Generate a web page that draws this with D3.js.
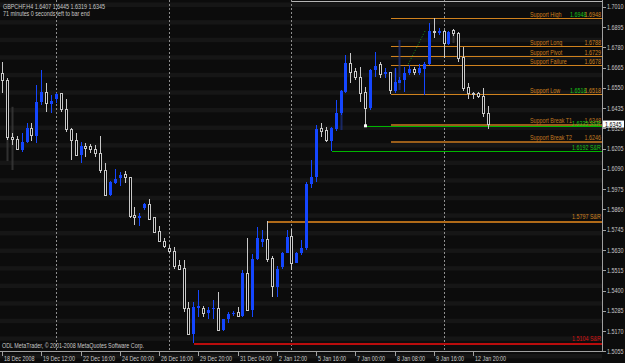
<!DOCTYPE html>
<html>
<head>
<meta charset="utf-8">
<script src="https://cdn.jsdelivr.net/npm/d3@7"></script>
<style>
  body { margin: 0; background: #000; }
  svg { display: block; }
  text { font-family: "Liberation Sans", Arial, sans-serif; font-size: 7px; }
</style>
</head>
<body>
<div id="chart"></div>
<script>
// GBPCHF H4 bars, oldest first
const opens = [
  1.6633, 1.6595, 1.6267, 1.6260, 1.6198, 1.6241, 1.6321, 1.6279, 1.6469, 1.6525,
  1.6457, 1.6486, 1.6520, 1.6425, 1.6315, 1.6254, 1.6169, 1.6220, 1.6216, 1.6202,
  1.6179, 1.6084, 1.5942, 1.6012, 1.6037, 1.6056, 1.6042, 1.5828, 1.5809, 1.5866,
  1.5889, 1.5813, 1.5733, 1.5677, 1.5639, 1.5624, 1.5544, 1.5525, 1.5298, 1.5152,
  1.5302, 1.5298, 1.5273, 1.5294, 1.5298, 1.5175, 1.5236, 1.5264, 1.5275, 1.5254,
  1.5497, 1.5292, 1.5577, 1.5677, 1.5690, 1.5582, 1.5421, 1.5531, 1.5614, 1.5705,
  1.5557, 1.5614, 1.5639, 1.6003, 1.6042, 1.6321, 1.6311, 1.6250, 1.6315, 1.6406,
  1.6529, 1.6686, 1.6642, 1.6611, 1.6523, 1.6434, 1.6652, 1.6681, 1.6631, 1.6637,
  1.6535, 1.6580, 1.6595, 1.6633, 1.6656, 1.6633, 1.6658, 1.6686, 1.6870, 1.6861,
  1.6870, 1.6798, 1.6875, 1.6861, 1.6724, 1.6554, 1.6516, 1.6520, 1.6500, 1.6407
];
const highs = [
  1.6699, 1.6607, 1.6294, 1.6277, 1.6294, 1.6351, 1.6349, 1.6567, 1.6652, 1.6577,
  1.6510, 1.6520, 1.6523, 1.6486, 1.6321, 1.6296, 1.6245, 1.6236, 1.6230, 1.6226,
  1.6277, 1.6125, 1.6023, 1.6090, 1.6074, 1.6078, 1.6046, 1.5875, 1.5838, 1.5895,
  1.5917, 1.5819, 1.5766, 1.5696, 1.5658, 1.5648, 1.5573, 1.5573, 1.5336, 1.5336,
  1.5402, 1.5311, 1.5307, 1.5345, 1.5392, 1.5241, 1.5279, 1.5283, 1.5307, 1.5516,
  1.5696, 1.5607, 1.5762, 1.5743, 1.5797, 1.5595, 1.5538, 1.5620, 1.5743, 1.5747,
  1.5620, 1.5686, 1.6017, 1.6141, 1.6340, 1.6349, 1.6326, 1.6326, 1.6482, 1.6538,
  1.6737, 1.6747, 1.6662, 1.6671, 1.6557, 1.6656, 1.6756, 1.6699, 1.6662, 1.6642,
  1.6662, 1.6614, 1.6671, 1.6681, 1.6671, 1.6685, 1.6699, 1.6921, 1.6948, 1.6889,
  1.6879, 1.6875, 1.6883, 1.6870, 1.6784, 1.6577, 1.6529, 1.6529, 1.6548, 1.6445
];
const lows = [
  1.6520, 1.6254, 1.6226, 1.6198, 1.6188, 1.6236, 1.6249, 1.6239, 1.6453, 1.6415,
  1.6406, 1.6463, 1.6415, 1.6302, 1.6141, 1.6163, 1.6125, 1.6156, 1.6181, 1.6160,
  1.6065, 1.5936, 1.5936, 1.6004, 1.5995, 1.6008, 1.5809, 1.5771, 1.5767, 1.5857,
  1.5800, 1.5724, 1.5675, 1.5639, 1.5611, 1.5525, 1.5516, 1.5279, 1.5146, 1.5104,
  1.5250, 1.5250, 1.5236, 1.5236, 1.5171, 1.5171, 1.5216, 1.5254, 1.5247, 1.5250,
  1.5284, 1.5250, 1.5573, 1.5648, 1.5563, 1.5361, 1.5364, 1.5525, 1.5611, 1.5516,
  1.5554, 1.5601, 1.5629, 1.5982, 1.6017, 1.6273, 1.6245, 1.6192, 1.6307, 1.6396,
  1.6520, 1.6577, 1.6595, 1.6472, 1.6335, 1.6425, 1.6614, 1.6605, 1.6605, 1.6518,
  1.6520, 1.6577, 1.6529, 1.6624, 1.6624, 1.6624, 1.6510, 1.6681, 1.6832, 1.6851,
  1.6720, 1.6794, 1.6847, 1.6699, 1.6535, 1.6486, 1.6486, 1.6491, 1.6383, 1.6319
];
const closes = [
  1.6595, 1.6271, 1.6260, 1.6202, 1.6241, 1.6321, 1.6279, 1.6469, 1.6529, 1.6459,
  1.6476, 1.6514, 1.6425, 1.6315, 1.6254, 1.6169, 1.6220, 1.6205, 1.6202, 1.6179,
  1.6084, 1.5942, 1.6014, 1.6033, 1.6056, 1.6042, 1.5819, 1.5813, 1.5824, 1.5889,
  1.5806, 1.5730, 1.5681, 1.5648, 1.5620, 1.5535, 1.5520, 1.5298, 1.5152, 1.5304,
  1.5311, 1.5270, 1.5292, 1.5302, 1.5175, 1.5236, 1.5264, 1.5273, 1.5250, 1.5497,
  1.5288, 1.5577, 1.5696, 1.5690, 1.5577, 1.5421, 1.5525, 1.5614, 1.5701, 1.5554,
  1.5614, 1.5639, 1.6004, 1.6046, 1.6315, 1.6302, 1.6250, 1.6321, 1.6406, 1.6535,
  1.6690, 1.6639, 1.6611, 1.6516, 1.6431, 1.6652, 1.6677, 1.6629, 1.6639, 1.6535,
  1.6586, 1.6595, 1.6633, 1.6656, 1.6637, 1.6662, 1.6686, 1.6875, 1.6866, 1.6875,
  1.6800, 1.6870, 1.6857, 1.6716, 1.6548, 1.6520, 1.6514, 1.6503, 1.6406, 1.6345
];

// faint shadow bars seen behind some candles
const ghostIdx = [1, 2, 69, 80, 81, 92];
const ghostHigh = [1.6271, 1.6443, 1.6538, 1.6662, 1.6822, 1.6862];
const ghostLow = [1.6135, 1.6084, 1.6311, 1.6538, 1.6538, 1.6805];
const ghostUp = [false, false, true, true, true, false];

const timeTickIdx = [0, 8, 16, 24, 32, 40, 48, 56, 64, 72, 80, 88, 96];
const timeTickLabels = ["18 Dec 2008", "19 Dec 12:00", "22 Dec 16:00", "24 Dec 00:00",
  "26 Dec 16:00", "29 Dec 20:00", "31 Dec 04:00", "2 Jan 12:00", "5 Jan 16:00",
  "7 Jan 00:00", "8 Jan 08:00", "9 Jan 16:00", "12 Jan 20:00"];
const priceTicks = [1.7010, 1.6895, 1.6780, 1.6665, 1.6550, 1.6435, 1.6320, 1.6205, 1.6090,
  1.5975, 1.5860, 1.5745, 1.5630, 1.5515, 1.5400, 1.5285, 1.5170, 1.5055];
const separatorIdx = [11, 34, 59, 90];

// support levels drawn by the indicator
const levelNames = ["Support  High", "Support Long", "Support  Pivot", "Support Failure",
  "Support  Low", "Support Break T1", "Support Break T2"];
const levelValues = [1.6948, 1.6788, 1.6729, 1.6678, 1.6518, 1.6348, 1.6246];
const levelStart = 79;
const levelTwin = [true, false, false, false, true, false, false]; // value printed twice

// S&R lines
const srValues = [1.6335, 1.6192, 1.5797, 1.5104];
const srStart = [74, 67, 54, 39];
const srKind = ["green", "green", "orange", "red"];

// resistance line running along the top edge
const topLineValue = 1.7042;
const topLineStart = 59;

const trendFrom = [82.8, 1.6685];
const trendTo = [86.2, 1.6872];

const title = "GBPCHF,H4  1.6407 1.6445 1.6319 1.6345";
const subtitle = "71 minutes 0 seconds left to bar end";
const footer = "ODL MetaTrader, \u00a9 2001-2008 MetaQuotes Software Corp.";
const lastPrice = 1.6345;

// ---- drawing ----
const W = 625, H = 363;
const plotRight = 602, plotBottom = 352;
const bull = "#1446ff", bear = "#c8c8c8";
const orange = "#d0821e", green = "#18c418";
const srColor = { green: "#00b400", orange: "#b06a18", red: "#b80c0c" };
const srText = { green: green, orange: orange, red: "#d81010" };
const fmt = d3.format(".4f");

const svg = d3.select("#chart").append("svg").attr("width", W).attr("height", H);
svg.append("rect").attr("width", W).attr("height", H).attr("fill", "#0c0c0c");

const x = d3.scaleLinear().domain([0, 96]).range([2, 473]);
const y = d3.scaleLinear().domain([1.5055, 1.7010]).range([351.3, 6.9]);
const px = i => Math.round(x(i)) + 0.5;
const py = p => Math.round(y(p)) + 0.5;

// squeezed screen font
function label(g, tx, ty, str, color, anchor) {
  return g.append("text")
    .attr("transform", `translate(${tx},${ty}) scale(0.77,1)`)
    .attr("text-anchor", anchor || "start")
    .attr("fill", color)
    .text(str);
}

// dotted background bands
const bands = svg.append("g");
d3.range(21).forEach(k => {
  bands.append("rect").attr("x", 0).attr("y", 2.5 + 17.57 * k)
    .attr("width", plotRight).attr("height", 4.5).attr("fill", "#161616");
});

// period separators
svg.append("g").selectAll("line").data(separatorIdx).join("line")
  .attr("x1", d => px(d)).attr("x2", d => px(d))
  .attr("y1", 0).attr("y2", plotBottom)
  .attr("stroke", "#8e8e8e").attr("stroke-dasharray", "2,2");

// level lines
const lv = svg.append("g").attr("shape-rendering", "crispEdges");
lv.append("line").attr("x1", px(topLineStart)).attr("x2", plotRight)
  .attr("y1", py(topLineValue)).attr("y2", py(topLineValue))
  .attr("stroke", "#b4b4b4");
levelValues.forEach((v, k) => {
  const col = k >= 5 ? "#9a5e1a" : orange;
  lv.append("line").attr("x1", px(levelStart)).attr("x2", plotRight)
    .attr("y1", py(v)).attr("y2", py(v))
    .attr("stroke", col).attr("stroke-width", k >= 5 ? 2 : 1);
});
srValues.forEach((v, k) => {
  lv.append("line").attr("x1", px(srStart[k])).attr("x2", plotRight)
    .attr("y1", py(v)).attr("y2", py(v))
    .attr("stroke", srColor[srKind[k]]).attr("stroke-width", srKind[k] === "green" ? 1 : 2);
});
svg.append("line")
  .attr("x1", x(trendFrom[0])).attr("y1", y(trendFrom[1]))
  .attr("x2", x(trendTo[0])).attr("y2", y(trendTo[1]))
  .attr("stroke", "#1a9a1a").attr("stroke-dasharray", "1,2");

// ghost bars
svg.append("g").selectAll("rect").data(ghostIdx).join("rect")
  .attr("x", d => px(d) - 1).attr("width", 2)
  .attr("y", (d, k) => y(ghostHigh[k]))
  .attr("height", (d, k) => y(ghostLow[k]) - y(ghostHigh[k]))
  .attr("fill", (d, k) => ghostUp[k] ? "#1c2e7a" : "#3a3a3a")
  .attr("opacity", 0.8);

// candles
const idx = d3.range(opens.length);
const cg = svg.append("g").attr("shape-rendering", "crispEdges");
cg.selectAll("line").data(idx).join("line")
  .attr("x1", i => px(i)).attr("x2", i => px(i))
  .attr("y1", i => y(highs[i])).attr("y2", i => y(lows[i]))
  .attr("stroke", i => closes[i] > opens[i] ? bull : bear);
cg.selectAll("rect").data(idx).join("rect")
  .attr("x", i => closes[i] > opens[i] ? px(i) - 1.5 : px(i) - 1)
  .attr("width", i => closes[i] > opens[i] ? 3 : 2)
  .attr("y", i => y(Math.max(opens[i], closes[i])))
  .attr("height", i => Math.max(1, Math.abs(y(opens[i]) - y(closes[i]))))
  .attr("fill", i => closes[i] > opens[i] ? bull : "#000")
  .attr("stroke", i => closes[i] > opens[i] ? "none" : bear);

// marker where the T1 S&R line starts
svg.append("rect").attr("x", px(srStart[0]) - 1.5).attr("y", y(srValues[0]) - 1.5)
  .attr("width", 3).attr("height", 3).attr("fill", "#ffffff");

// level texts
const lt = svg.append("g");
levelValues.forEach((v, k) => {
  const by = y(v) - 1;
  const col = k >= 5 ? "#c07a22" : orange;
  label(lt, 530, by, levelNames[k], col);
  if (levelTwin[k]) label(lt, 570, by, fmt(v), green);
  label(lt, 601, by, fmt(v), col, "end");
});
srValues.forEach((v, k) => {
  const by = k === 0 ? y(v) + 0.5 : y(v) - 1.5;
  label(lt, 601, by, fmt(v) + " S&R", srText[srKind[k]], "end");
});

// axes
const ax = svg.append("g").attr("shape-rendering", "crispEdges");
ax.append("line").attr("x1", plotRight + 0.5).attr("x2", plotRight + 0.5)
  .attr("y1", 0).attr("y2", plotBottom).attr("stroke", "#a0a0a0");
ax.append("line").attr("x1", 0).attr("x2", plotRight + 0.5)
  .attr("y1", plotBottom - 0.5).attr("y2", plotBottom - 0.5).attr("stroke", "#a0a0a0");

priceTicks.forEach(p => {
  ax.append("line").attr("x1", plotRight).attr("x2", plotRight + 4)
    .attr("y1", py(p)).attr("y2", py(p))
    .attr("stroke", "#a0a0a0");
  label(svg, 607, y(p) + 2.5, fmt(p), "#c8c8c8");
});

timeTickIdx.forEach((t, k) => {
  ax.append("line").attr("x1", px(t)).attr("x2", px(t))
    .attr("y1", plotBottom).attr("y2", plotBottom + 4).attr("stroke", "#a0a0a0");
  label(svg, px(t) + 1.5, 360.5, timeTickLabels[k], "#c8c8c8");
});

// current price box
svg.append("rect").attr("x", 603).attr("y", y(lastPrice) - 3.5)
  .attr("width", 21).attr("height", 7).attr("fill", "#ffffff");
label(svg, 605, y(lastPrice) + 2.5, fmt(lastPrice), "#000000");

// header and footer texts
label(svg, 3, 8.5, title, "#c8c8c8");
label(svg, 3, 15.5, subtitle, "#c8c8c8");
label(svg, 2, 347.5, footer, "#c8c8c8");
</script>
</body>
</html>
